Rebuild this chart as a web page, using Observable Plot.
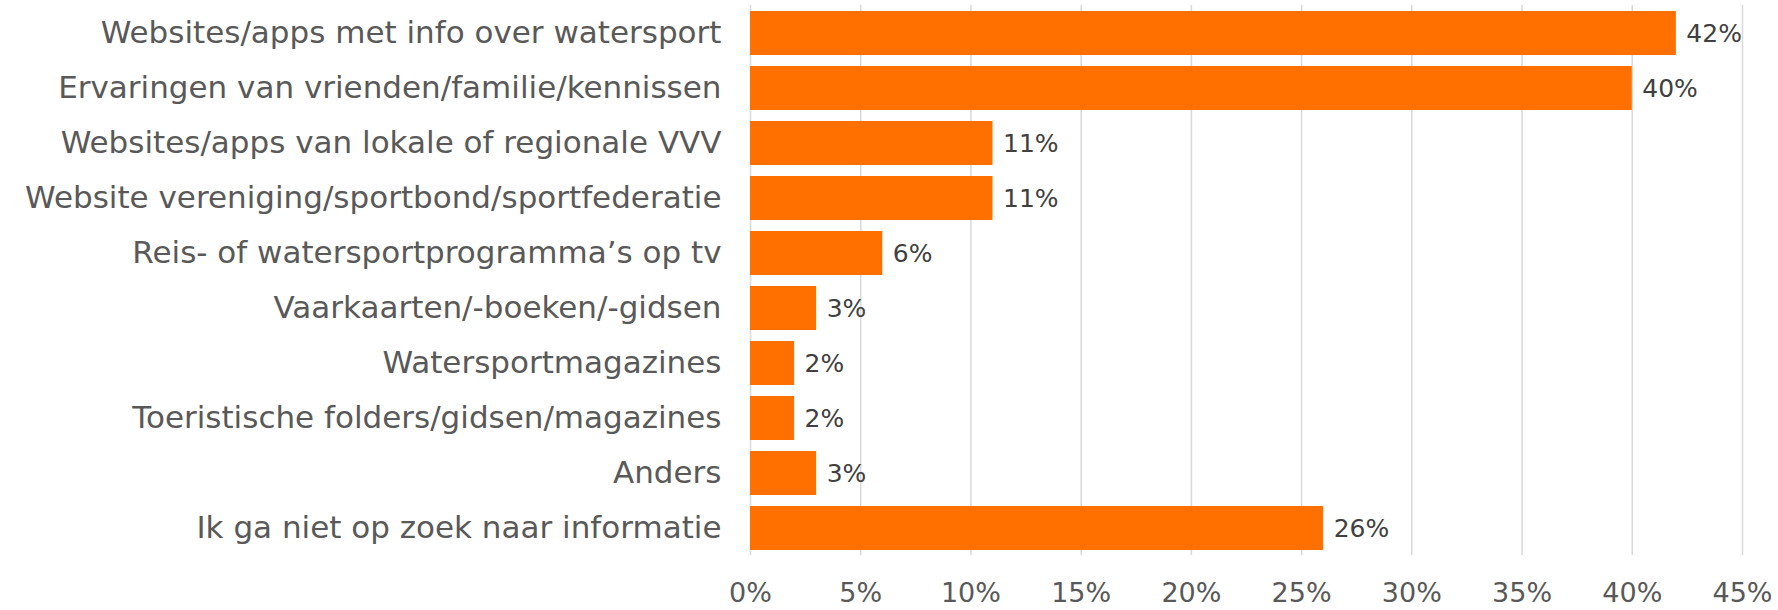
<!DOCTYPE html>
<html>
<head>
<meta charset="utf-8">
<script src="https://cdn.jsdelivr.net/npm/d3@7"></script>
<script src="https://cdn.jsdelivr.net/npm/@observablehq/plot@0.6"></script>
<style>
  html, body { margin: 0; padding: 0; background: #fff; }
</style>
</head>
<body>
<div id="chart"></div>
<script>
const categories = [
  "Websites/apps met info over watersport",
  "Ervaringen van vrienden/familie/kennissen",
  "Websites/apps van lokale of regionale VVV",
  "Website vereniging/sportbond/sportfederatie",
  "Reis- of watersportprogramma’s op tv",
  "Vaarkaarten/-boeken/-gidsen",
  "Watersportmagazines",
  "Toeristische folders/gidsen/magazines",
  "Anders",
  "Ik ga niet op zoek naar informatie"
];
const values = [42, 40, 11, 11, 6, 3, 2, 2, 3, 26];
const xTicks = [0, 5, 10, 15, 20, 25, 30, 35, 40, 45];

const data = categories.map((c, i) => ({category: c, value: values[i]}));

const chart = Plot.plot({
  width: 1778,
  height: 610,
  marginLeft: 750,
  marginRight: 36,
  marginTop: 5,
  marginBottom: 55,
  style: {fontSize: "29px", color: "#595959", fontFamily: "'DejaVu Sans', sans-serif"},
  x: {domain: [0, 45], ticks: xTicks, tickFormat: d => d + "%", label: null},
  y: {domain: categories, paddingInner: 0.2, paddingOuter: 0.1, label: null},
  marks: [
    Plot.ruleX(xTicks, {stroke: "#d9d9d9", strokeWidth: 1.5}),
    Plot.barX(data, {y: "category", x: "value", fill: "#ff7000"}),
    Plot.text(data, {y: "category", x: "value", text: d => d.value + "%", textAnchor: "start", dx: 10, fill: "#404040", fontSize: 25}),
    Plot.axisX({ticks: xTicks, tickFormat: d => d + "%", tickSize: 0, tickPadding: 27, fontSize: 27, fill: "#595959"}),
    Plot.axisY({tickSize: 0, tickPadding: 29, fontSize: 31, fill: "#595959"})
  ]
});
document.getElementById("chart").appendChild(chart);
</script>
</body>
</html>
